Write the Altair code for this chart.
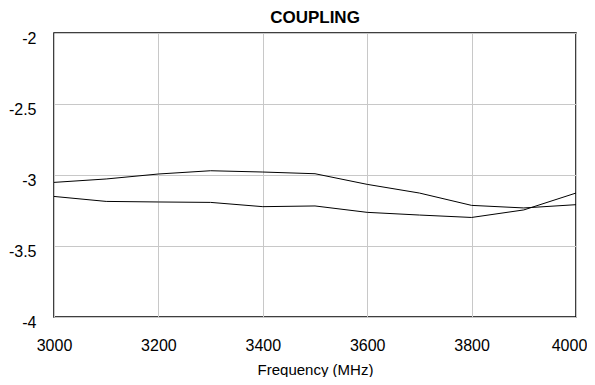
import altair as alt
import pandas as pd

freq = [3000, 3100, 3200, 3300, 3400, 3500, 3600, 3700, 3800, 3900, 4000]
coupling_a = [-3.052, -3.028, -2.993, -2.970, -2.979, -2.991, -3.066, -3.127, -3.214, -3.232, -3.209]
coupling_b = [-3.151, -3.186, -3.190, -3.193, -3.223, -3.218, -3.263, -3.282, -3.299, -3.246, -3.127]

rows = []
for f, a, b in zip(freq, coupling_a, coupling_b):
    rows.append({"f": f, "v": a, "s": "A"})
    rows.append({"f": f, "v": b, "s": "B"})
df = pd.DataFrame(rows)

FONT = "Liberation Sans"

chart = alt.Chart(df).mark_line(color="black", strokeWidth=1).encode(
    x=alt.X("f:Q", scale=alt.Scale(domain=[3000, 4000], nice=False, zero=False),
            axis=alt.Axis(title="Frequency (MHz)", values=[3000, 3200, 3400, 3600, 3800, 4000],
                          labelExpr="datum.value + ''",
                          labelOffset={"condition": {"test": "datum.value == 4000", "value": -7}, "value": 0},
                          ticks=False, domain=False, labelPadding=20, titlePadding=9,
                          labelFontSize=16, titleFontSize=15, titleFontWeight="normal",
                          labelFont=FONT, titleFont=FONT, labelColor="black", titleColor="black",
                          gridColor="#c8c8c8", labelFlush=False)),
    y=alt.Y("v:Q", scale=alt.Scale(domain=[-4, -2], nice=False, zero=False),
            axis=alt.Axis(title=None, values=[-4, -3.5, -3, -2.5, -2], ticks=False, domain=False,
                          labelExpr="datum.value + ''",
                          labelPadding=18, labelOffset=5, labelFontSize=16, labelFont=FONT,
                          labelColor="black", gridColor="#c8c8c8", labelFlush=False)),
    detail="s:N",
).properties(
    width=522,
    height=284,
    title=alt.TitleParams("COUPLING", font=FONT, fontSize=17, fontWeight="bold", color="black",
                          offset=3, anchor="middle"),
    autosize=alt.AutoSizeParams(type="none"),
    padding={"left": 46, "top": 25, "right": 11, "bottom": 60},
).configure_view(stroke="black", strokeWidth=1.5)

chart.save("out.html", embed_options={"renderer": "svg", "actions": False})
